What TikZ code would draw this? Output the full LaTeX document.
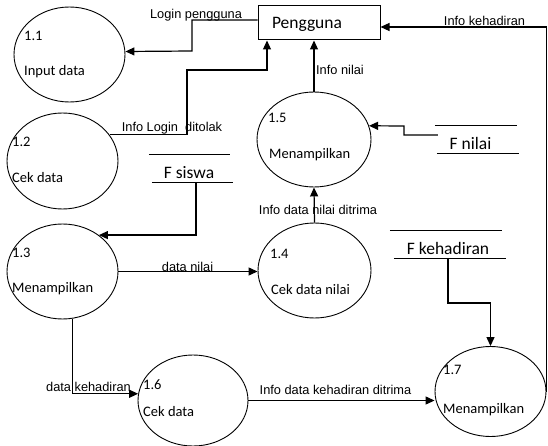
\documentclass[tikz,border=0pt]{standalone}
\usepackage{fontspec}
\setmainfont{Carlito}
\newfontfamily\lblfont{Liberation Sans}
\usetikzlibrary{shapes.geometric,arrows.meta}
\begin{document}
\begin{tikzpicture}[x=1pt,y=-1pt,
  proc/.style={draw, ellipse, inner sep=0pt, line width=0.9pt},
  ptxt/.style={anchor=west, inner sep=0pt, font=\fontsize{14.5}{16}\selectfont},
  stxt/.style={inner sep=0pt, font=\fontsize{17.5}{19}\selectfont},
  flowlbl/.style={inner sep=0pt, font=\lblfont\fontsize{12.8}{14}\selectfont},
  flow/.style={line width=1.2pt, -{Triangle[length=9pt,width=8pt]}},
  storeline/.style={line width=1pt},
  storebox/.style={inner sep=0pt, minimum height=27pt}]
\useasboundingbox (0,0) rectangle (548,446);

% processes
\node[proc, minimum width=111pt, minimum height=95pt] (e11) at (69.5,54.5) {};
\node[proc, minimum width=111pt, minimum height=96pt] (e12) at (62.5,161) {};
\node[proc, minimum width=111pt, minimum height=95pt] (e13) at (62.5,271.5) {};
\node[proc, minimum width=113pt, minimum height=95pt] (e14) at (314.5,270.5) {};
\node[proc, minimum width=114pt, minimum height=95pt] (e15) at (314,139.5) {};
\node[proc, minimum width=110pt, minimum height=91pt] (e16) at (193,400.5) {};
\node[proc, minimum width=111pt, minimum height=90pt] (e17) at (490.5,391.5) {};

\node[ptxt] (t11a) at (24,36) {1.1};
\node[ptxt] (t11b) at (24,72) {Input data};
\node[ptxt] (t12a) at (12,142) {1.2};
\node[ptxt] (t12b) at (12,178) {Cek data};
\node[ptxt] (t13a) at (12,253) {1.3};
\node[ptxt] (t13b) at (12,289) {Menampilkan};
\node[ptxt] (t14a) at (270,254) {1.4};
\node[ptxt] (t14b) at (271,290) {Cek data nilai};
\node[ptxt] (t15a) at (268,118) {1.5};
\node[ptxt] (t15b) at (269,155) {Menampilkan};
\node[ptxt] (t16a) at (143,385) {1.6};
\node[ptxt] (t16b) at (143,412) {Cek data};
\node[ptxt] (t17a) at (443,370) {1.7};
\node[ptxt] (t17b) at (443,410) {Menampilkan};

% external entity
\node[draw, line width=1pt, inner sep=0pt, minimum width=122pt, minimum height=34pt] (pg) at (319,23) {};
\node[stxt] (pgt) at (307,24) {Pengguna};

% data stores
\node[storebox, minimum width=82pt] (fn) at (476,139.5) {};
\draw[storeline] (fn.north west) -- (fn.north east);
\draw[storeline] ([xshift=2pt]fn.south west) -- ([xshift=2pt]fn.south east);
\node[stxt] (fnt) at (470.5,143) {F nilai};

\node[storebox, minimum width=81pt] (fs) at (191,168.5) {};
\draw[storeline] ([xshift=-1.5pt]fs.north west) -- ([xshift=-1.5pt]fs.north east);
\draw[storeline] ([xshift=1.5pt]fs.south west) -- ([xshift=1.5pt]fs.south east);
\node[stxt] (fst) at (189,173) {F siswa};

\node[storebox, minimum width=112pt] (fk) at (448,244.5) {};
\draw[storeline] ([xshift=-2pt]fk.north west) -- ([xshift=-2pt]fk.north east);
\draw[storeline] ([xshift=2pt]fk.south west) -- ([xshift=2pt]fk.south east);
\node[stxt] (fkt) at (448,248) {F kehadiran};

% flows
\draw[flow] ([yshift=3pt]pg.west) -| (192,51) -- ([yshift=3pt]e11.east);
\draw[flow] (e12.29) -| (187,70) -| ([xshift=-52pt]pg.south);
\draw[flow] (e15.north) -- (e15.north |- pg.south);
\draw[flow] (e17.east) |- ([yshift=-4pt]pg.east);
\draw[flow] ([shift={(3pt,4.5pt)}]fn.west) -| (404,126) -- (e15.14);
\draw[flow] ([xshift=5pt]fs.south) |- (e13.45);
\draw[flow] (e13.east) -- (e13.east -| e14.west);
\draw[flow] (e14.north) -- (e15.south);
\draw[flow] (fk.south) -- (448,303) -| (e17.north);
\draw[flow] (e13.-78) |- (e16.173);
\draw[flow] (e16.east) -- (e16.east -| e17.west);

% flow labels
\node[flowlbl] (l1) at (196,15) {Login pengguna};
\node[flowlbl] (l2) at (172,128) {Info Login\ \ ditolak};
\node[flowlbl] (l3) at (340,70) {Info nilai};
\node[flowlbl] (l4) at (484.5,21) {Info kehadiran};
\node[flowlbl] (l5) at (187.5,267) {data nilai};
\node[flowlbl] (l6) at (318,210) {Info data nilai ditrima};
\node[flowlbl] (l7) at (88.5,387) {data kehadiran};
\node[flowlbl] (l8) at (335.5,390) {Info data kehadiran ditrima};
\end{tikzpicture}
\end{document}
